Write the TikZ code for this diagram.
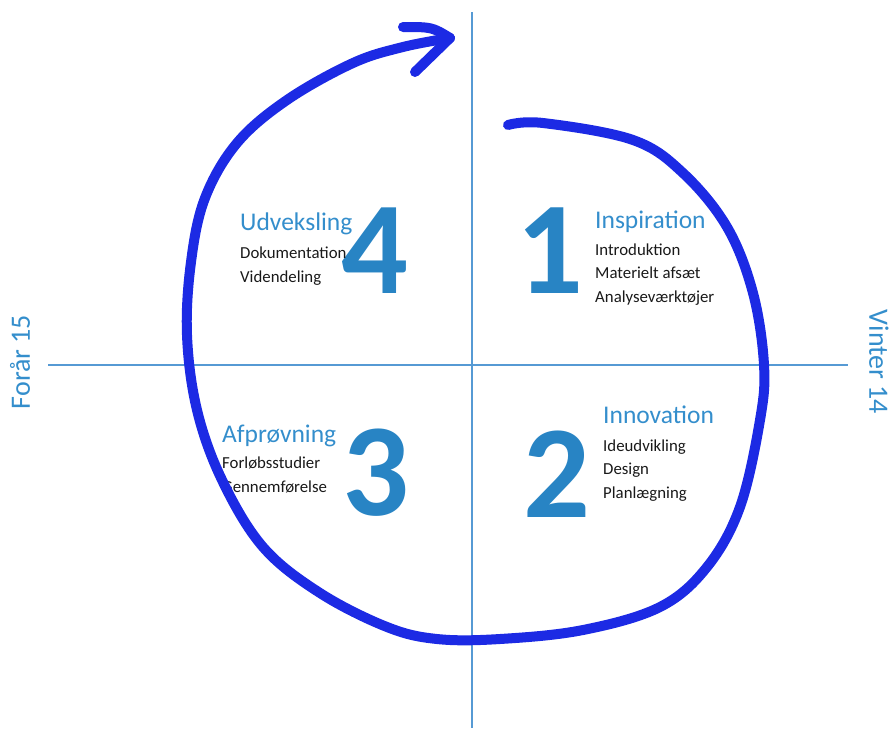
\documentclass[tikz,border=0pt]{standalone}
\usepackage{fontspec}
\setmainfont{Carlito}
\usetikzlibrary{positioning}
\definecolor{spiralblue}{RGB}{28,42,228}
\definecolor{numblue}{RGB}{40,132,196}
\definecolor{headblue}{RGB}{52,142,204}
\definecolor{axisblue}{RGB}{86,154,212}
\definecolor{itemgray}{RGB}{25,25,25}
\tikzset{
  tal/.style = {font=\fontsize{132}{132}\selectfont\bfseries, text=numblue, anchor=base, inner sep=0pt},
  overskrift/.style = {font=\fontsize{25.5}{28}\selectfont, text=headblue, anchor=base west, inner sep=0pt},
  punkter/.style = {font=\fontsize{16.8}{23.5}\selectfont, text=itemgray, anchor=base west, align=left, inner sep=0pt},
  saeson/.style = {font=\fontsize{28}{28}\selectfont, text=headblue, inner sep=0pt},
  akse/.style = {draw=axisblue, line width=1.3pt},
  spiral/.style = {draw=spiralblue, line width=10pt, line cap=round, line join=round}
}
\begin{document}
\begin{tikzpicture}[x=1pt, y=-1pt]
\useasboundingbox (0,0) rectangle (893,728);

% akser
\coordinate (top) at (472,12);
\coordinate (bund) at (472,728);
\coordinate (venstre) at (48,365);
\coordinate (hoejre) at (848,365);
\draw[akse] (top) -- (bund);
\draw[akse] (venstre) -- (hoejre);

% tal
\node[tal] (en) at (550,293) {1};
\node[tal] (to) at (557,517) {2};
\node[tal] (tre) at (376,515) {3};
\node[tal] (fire) at (375,293) {4};

% 1 inspiration (punkter sat ved sidste linjes grundlinje)
\node[overskrift] (insp) at (595,228) {Inspiration};
\node[punkter] (inspL) at (595,302) {Introduktion\\Materielt afsæt\\Analyseværktøjer};

% 2 innovation
\node[overskrift] (inno) at (603,423) {Innovation};
\node[punkter] (innoL) at (603,498) {Ideudvikling\\Design\\Planlægning};

% 3 afprøvning
\node[overskrift] (afpr) at (222,442) {Afprøvning};
\node[punkter] (afprL) at (222,492) {Forløbsstudier\\Gennemførelse};

% 4 udveksling
\node[overskrift] (udv) at (240,230) {Udveksling};
\node[punkter] (udvL) at (240,282) {Dokumentation\\Videndeling};

% årstider
\node[saeson, rotate=90] (foraar) at (20,362) {Forår 15};
\node[saeson, rotate=-90] (vinter) at (879,362) {Vinter 14};

% spiral
\coordinate (start) at (508,125);
\coordinate (spids) at (450,38);
\draw[spiral] plot[smooth, tension=0.6] coordinates {
  (start) (543,123) (633,140) (683,173) (727,227) (753,293) (764,365)
  (760,420) (740,507) (707,567) (660,607) (583,630) (500,639) (437,639)
  (387,627) (320,593) (263,547) (222,480) (197,410) (187,335) (191,262)
  (205,198) (237,143) (287,100) (353,63) (403,47) (spids)};
\draw[spiral] (403,27) .. controls (432,27) .. (spids);
\draw[spiral] (415,72) -- (spids);
\end{tikzpicture}
\end{document}
